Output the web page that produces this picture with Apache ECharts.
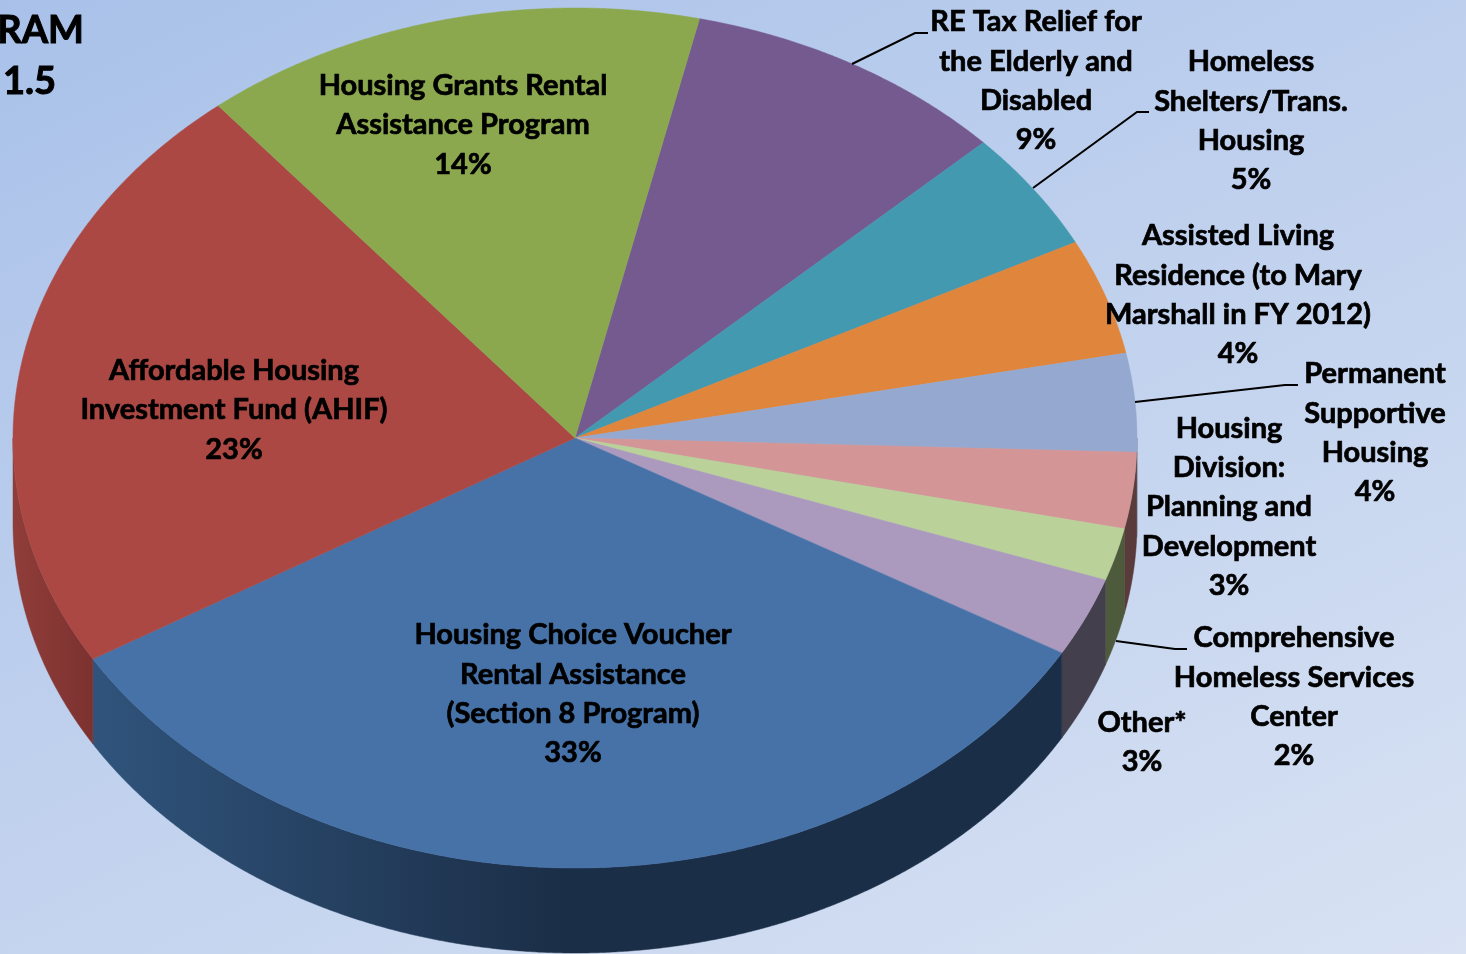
<!DOCTYPE html>
<html>
<head>
<meta charset="utf-8">
<style>
  html, body { margin: 0; padding: 0; width: 100%; height: 100%; overflow: hidden; }
  #main { width: 1466px; height: 954px; }
</style>
</head>
<body>
<div id="main"></div>
<script src="https://cdn.jsdelivr.net/npm/echarts@6/dist/echarts.min.js"></script>
<script>
// slices go clockwise, starting at the purple one
const categories = [
  'RE Tax Relief for\nthe Elderly and\nDisabled',
  'Homeless\nShelters/Trans.\nHousing',
  'Assisted Living\nResidence (to Mary\nMarshall in FY 2012)',
  'Permanent\nSupportive\nHousing',
  'Housing\nDivision:\nPlanning and\nDevelopment',
  'Comprehensive\nHomeless Services\nCenter',
  'Other*',
  'Housing Choice Voucher\nRental Assistance\n(Section 8 Program)',
  'Affordable Housing\nInvestment Fund (AHIF)',
  'Housing Grants Rental\nAssistance Program'
]
const values = [9.39, 4.53, 4.36, 3.69, 2.86, 1.97, 2.97, 33.08, 22.64, 14.5]
const percentLabels = ['9%', '5%', '4%', '4%', '3%', '2%', '3%', '33%', '23%', '14%']

const topColors = ['#755a90', '#4299b0', '#e0853c', '#95a9d0', '#d39595', '#bbd19a', '#ab9abd', '#4672a8', '#ab4844', '#8ba84f']
const sideColors = ['#4a3860', '#2a6272', '#8f5526', '#5f6c85', '#5a3b3b', '#4e5a3c', '#443f4c', ['#30547c', '#1b2e47'], ['#903d39', '#7c3230'], '#59692f']

// label centre [x, y] for each slice
const labelPos = [[1036, 81], [1251, 121], [1238, 295], [1375, 433], [1229, 507], [1294, 697], [1142, 742], [573, 694], [234, 410], [463, 125]]
const leaders = [
  [[852, 64], [915, 33], [928, 33]],
  [[1033, 188], [1137, 112], [1149, 112]],
  [[1135, 402], [1285, 385], [1298, 385]],
  [[1116, 641], [1175, 649], [1187, 649]]
]

const cx = 575, cy = 438, rx = 562, ry = 430, depth = 85
const startAngle = 12.8 // degrees clockwise from the top
const total = values.reduce((a, b) => a + b, 0)
const FONT = 'Lato, Carlito, sans-serif'

const spans = []
let run = startAngle
values.forEach((v) => {
  const end = run + (v / total) * 360
  spans.push([run, end])
  run = end
})

const rim = (deg, dy = 0) => {
  const r = (deg * Math.PI) / 180
  return [cx + rx * Math.sin(r), cy + dy - ry * Math.cos(r)]
}
const arc = (a0, a1, dy = 0) => {
  const pts = []
  const n = Math.max(2, Math.ceil(Math.abs(a1 - a0) * 4))
  for (let i = 0; i <= n; i++) pts.push(rim(a0 + ((a1 - a0) * i) / n, dy))
  return pts
}

const renderSide = (params) => {
  const i = params.dataIndex
  const a0 = Math.max(spans[i][0], 90)
  const a1 = Math.min(spans[i][1], 270)
  if (a1 <= a0) return { type: 'group', children: [] }
  const c = sideColors[i]
  let fill = c
  if (Array.isArray(c)) {
    // side shading runs left to right on the two big slices
    const range = i === 7 ? [92, 560] : [13, 92]
    fill = new echarts.graphic.LinearGradient(range[0], 0, range[1], 0, [
      { offset: 0, color: c[0] },
      { offset: 1, color: c[1] }
    ], true)
  }
  return {
    type: 'polygon',
    shape: { points: arc(a0, a1).concat(arc(a1, a0, depth)) },
    style: { fill, stroke: fill, lineWidth: 0.5 }
  }
}

const renderTop = (params) => {
  const i = params.dataIndex
  const pts = [[cx, cy]].concat(arc(spans[i][0], spans[i][1]))
  return {
    type: 'polygon',
    shape: { points: pts },
    style: { fill: topColors[i], stroke: topColors[i], lineWidth: 0.5 }
  }
}

const renderLabel = (params) => {
  const i = params.dataIndex
  return {
    type: 'text',
    style: {
      text: categories[i] + '\n' + percentLabels[i],
      x: labelPos[i][0],
      y: labelPos[i][1],
      align: 'center',
      verticalAlign: 'middle',
      fontFamily: FONT,
      fontWeight: 'bold',
      fontSize: 29,
      lineHeight: 39.3,
      fill: '#000',
      stroke: '#000',
      lineWidth: 0.7
    }
  }
}

const renderLeader = (params) => ({
  type: 'polyline',
  shape: { points: leaders[params.dataIndex] },
  style: { fill: 'none', stroke: '#000', lineWidth: 2 }
})

const titleStyle = { align: 'right', verticalAlign: 'middle', fontFamily: FONT, fontWeight: 'bold', fontSize: 38, fill: '#000', stroke: '#000', lineWidth: 1 }

const chart = echarts.init(document.getElementById('main'))
chart.setOption({
  animation: false,
  tooltip: { show: false },
  backgroundColor: {
    type: 'linear', x: 0, y: 0, x2: 0.432, y2: 1.413,
    colorStops: [
      { offset: 0, color: '#a9c1e9' },
      { offset: 1, color: '#d8e2f3' }
    ]
  },
  graphic: [
    { type: 'text', silent: true, style: { text: 'RAM', x: 84, y: 31, ...titleStyle } },
    { type: 'text', silent: true, style: { text: '1.5', x: 56, y: 82, ...titleStyle } }
  ],
  series: [
    { type: 'custom', coordinateSystem: 'none', silent: true, z: 1, data: values, renderItem: renderSide },
    { type: 'custom', coordinateSystem: 'none', silent: true, z: 2, data: values, renderItem: renderTop },
    { type: 'custom', coordinateSystem: 'none', silent: true, z: 3, data: leaders.map((l, i) => i), renderItem: renderLeader },
    { type: 'custom', coordinateSystem: 'none', silent: true, z: 4, data: values, renderItem: renderLabel }
  ]
})
</script>
</body>
</html>
